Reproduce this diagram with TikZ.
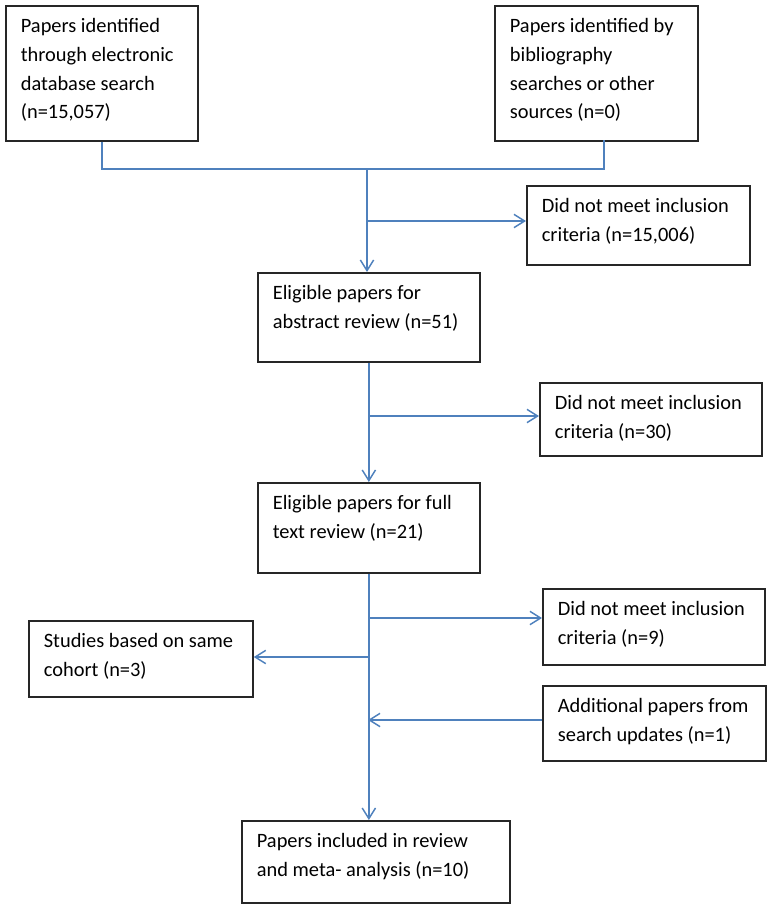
\documentclass[tikz,border=0pt]{standalone}
\usepackage{fontspec}
\setmainfont{Carlito}
\usetikzlibrary{arrows.meta}

\definecolor{linkblue}{RGB}{79,129,189}
\definecolor{boxline}{RGB}{38,38,38}

\newcommand{\boxlines}[3]{\parbox[t][#2][t]{#1}{\begin{tabular}[t]{@{}l@{}}#3\end{tabular}}}

\tikzset{
    flowbox/.style={draw=boxline, line width=1.3pt, anchor=north west,
        inner xsep=11.25pt, inner ysep=5.2pt,
        font=\fontsize{15.3pt}{21.5pt}\selectfont},
    link/.style={draw=linkblue, line width=1.1pt},
    >={Straight Barb[length=8pt,width=10pt]}
}

\begin{document}
\begin{tikzpicture}[x=0.75pt, y=-0.75pt]
    \useasboundingbox (0,0) rectangle (771,908);

    \node[flowbox] (search) at (5,5) {\boxlines{121.5pt}{90.85pt}{Papers identified\\through electronic\\database search\\(n=15,057)}};
    \node[flowbox] (biblio) at (494,5) {\boxlines{129.75pt}{90.85pt}{Papers identified by\\bibliography\\searches or other\\sources (n=0)}};

    \node[flowbox] (excl1) at (526,185) {\boxlines{144.75pt}{48.85pt}{Did not meet inclusion\\criteria (n=15,006)}};
    \node[flowbox] (abstract) at (257,272) {\boxlines{144pt}{56.35pt}{Eligible papers for\\abstract review (n=51)}};

    \node[flowbox] (excl2) at (539,382) {\boxlines{144pt}{44.35pt}{Did not meet inclusion\\criteria (n=30)}};
    \node[flowbox] (fulltext) at (257,482) {\boxlines{144pt}{57.1pt}{Eligible papers for full\\text review (n=21)}};

    \node[flowbox] (excl3) at (542,588) {\boxlines{144pt}{46.6pt}{Did not meet inclusion\\criteria (n=9)}};
    \node[flowbox] (cohort) at (28,620) {\boxlines{145.5pt}{46.6pt}{Studies based on same\\cohort (n=3)}};
    \node[flowbox] (updates) at (542,685) {\boxlines{144.75pt}{45.85pt}{Additional papers from\\search updates (n=1)}};

    \node[flowbox] (included) at (241,820) {\boxlines{178.5pt}{51.1pt}{Papers included in review\\and meta- analysis (n=10)}};

    % merge of the two sources
    \coordinate (join) at (367,169);
    \coordinate (bdrop) at (604,140);
    \draw[link] (search) |- (join) -| (bdrop);
    \draw[link,->] (join) -- (join |- abstract.north);

    \coordinate (b1) at (367,221);
    \draw[link,->] (b1) -- (b1 -| excl1.west);

    \draw[link,->] (abstract.south) -- (abstract.south |- fulltext.north);
    \coordinate (b2) at (368,416);
    \draw[link,->] (b2) -- (b2 -| excl2.west);

    \draw[link,->] (fulltext.south) -- (fulltext.south |- included.north);
    \coordinate (b3) at (368,618);
    \draw[link,->] (b3) -- (b3 -| excl3.west);
    \coordinate (b4) at (368,657);
    \draw[link,->] (b4) -- (b4 -| cohort.east);
    \coordinate (b5) at (368,720);
    \draw[link,->] (b5 -| updates.west) -- (b5);
\end{tikzpicture}
\end{document}
